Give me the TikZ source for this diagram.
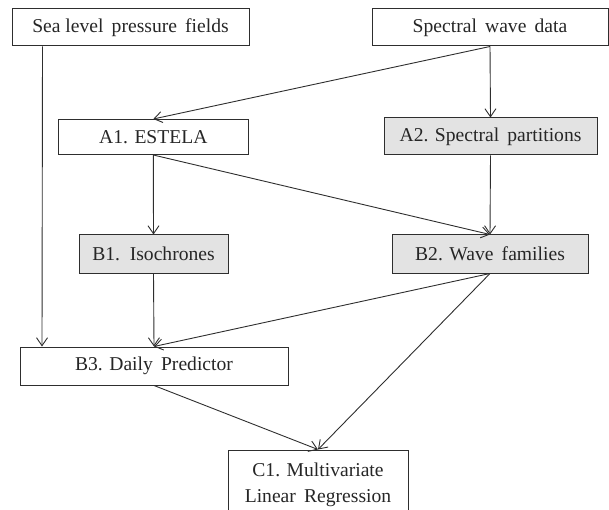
\documentclass[tikz,border=0pt]{standalone}
\usepackage{fontspec}
\setmainfont{Liberation Serif}
\usetikzlibrary{arrows.meta}
\definecolor{boxgray}{HTML}{E3E3E3}
\definecolor{linegray}{HTML}{2E2E2E}
\tikzset{
  box/.style={draw=linegray, line width=1pt, rectangle, inner sep=0pt, anchor=center,
    font=\fontsize{19.6}{25.5}\selectfont, align=center, text=black!85},
  shaded/.style={box, fill=boxgray},
  arr/.style={draw=linegray, line width=0.9pt, -{Straight Barb[length=8pt,width=11pt]}},
}
\begin{document}
\begin{tikzpicture}[x=1pt,y=-1pt]
\useasboundingbox (0,0) rectangle (609,510);
\node[box, minimum width=237pt, minimum height=37pt] (slp) at (130.5,27.5) {Sea level\, pressure\, fields};
\node[box, minimum width=236pt, minimum height=37pt] (swd) at (490,27.5) {Spectral\, wave\, data};
\node[box, minimum width=190pt, minimum height=35pt] (a1) at (153.3,137) {A1. ESTELA};
\node[shaded, minimum width=213pt, minimum height=37pt] (a2) at (490.5,136.5) {A2. Spectral\, partitions};
\node[shaded, minimum width=149pt, minimum height=38pt] (b1) at (153.5,254) {B1.\, Isochrones};
\node[shaded, minimum width=196pt, minimum height=38pt] (b2) at (490,254) {B2. Wave\, families};
\node[box, minimum width=268pt, minimum height=38pt] (b3) at (154,366) {B3. Daily\, Predictor};
\node[box, minimum width=180pt, minimum height=70pt] (c1) at (318,485) {C1. Multivariate\\Linear\, Regression};

\draw[arr] ([xshift=31pt]slp.south west) -- ([xshift=22.5pt]b3.north west);
\draw[arr] (swd.south) -- (a1.north);
\draw[arr] (swd.south) -- (a2.north);
\draw[arr] (a1.south) -- (b1.north);
\draw[arr] (a1.south) -- (b2.north);
\draw[arr] (a2.south) -- (b2.north);
\draw[arr] (b1.south) -- (b3.north);
\draw[arr] (b2.south) -- (b3.north);
\draw[arr] (b2.south) -- (c1.north);
\draw[arr] (b3.south) -- (c1.north);
\end{tikzpicture}
\end{document}
